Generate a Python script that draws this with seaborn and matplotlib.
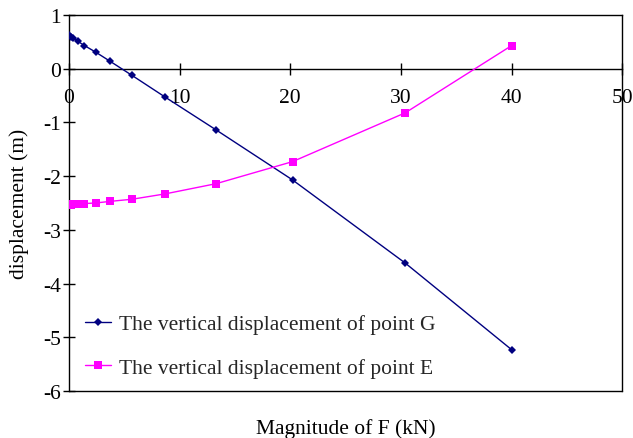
import matplotlib
matplotlib.use("Agg")
import matplotlib.pyplot as plt
import seaborn as sns
import pandas as pd

# ---- data ----
force = [0, 0.2, 0.4, 0.8, 1.4, 2.4, 3.7, 5.7, 8.7, 13.3, 20.2, 30.4, 40]
disp_G = [0.62, 0.59, 0.565, 0.51, 0.43, 0.31, 0.14, -0.125, -0.53, -1.14, -2.07, -3.62, -5.23]
disp_E = [-2.53, -2.53, -2.52, -2.52, -2.51, -2.50, -2.47, -2.43, -2.33, -2.14, -1.73, -0.82, 0.43]
label_G = "The vertical displacement of point G"
label_E = "The vertical displacement of point E"
x_ticks = [0, 10, 20, 30, 40, 50]
y_ticks = [-6, -5, -4, -3, -2, -1, 0, 1]

sns.set_theme(style="white")
plt.rcParams["font.family"] = ["Liberation Serif", "DejaVu Serif"]
FS = 15.5

dfG = pd.DataFrame({"F": force, "d": disp_G})
dfE = pd.DataFrame({"F": force, "d": disp_E})

fig, ax = plt.subplots(figsize=(6.33, 4.39), dpi=100)
fig.subplots_adjust(left=0.109, right=0.983, top=0.9636, bottom=0.107)

navy = "#000080"
mag = "#FF00FF"
sns.lineplot(data=dfG, x="F", y="d", ax=ax, color=navy, lw=1.0, marker="D",
             markersize=4.2, markeredgecolor=navy, markeredgewidth=0, sort=False,
             label=label_G, zorder=3)
sns.lineplot(data=dfE, x="F", y="d", ax=ax, color=mag, lw=1.0, marker="s",
             markersize=5.5, markeredgecolor=mag, markeredgewidth=0, sort=False,
             label=label_E, zorder=3)

# x axis crosses at y = 0 (do this before styling ticks; it resets them)
ax.spines["bottom"].set_position(("data", 0))
for s in ax.spines.values():
    s.set_color("black")
    s.set_linewidth(1.0)
# bottom frame line of the plot area
ax.plot([0, 1], [0, 0], transform=ax.transAxes, color="black", lw=1.0, clip_on=False, zorder=2)

ax.set_xlim(0, 50)
ax.set_ylim(-6, 1)
ax.set_xticks(x_ticks)
ax.set_yticks(y_ticks)
ax.set_xticklabels([str(v) for v in x_ticks])
ax.set_yticklabels([str(v) for v in y_ticks])

ax.tick_params(axis="x", direction="inout", length=8, width=1.0, pad=10, colors="black",
               bottom=True, labelsize=FS)
ax.tick_params(axis="y", direction="inout", length=8, width=1.0, pad=2, colors="black",
               left=True, labelsize=FS)

ax.set_xlabel("Magnitude of F (kN)", fontsize=FS, color="black")
ax.set_ylabel("displacement (m)", fontsize=FS, color="black")
ax.xaxis.set_label_coords(0.5, -0.072)
ax.yaxis.set_label_coords(-0.072, 0.5)

leg = ax.legend(loc="center left", bbox_to_anchor=(0.029, 0.12), frameon=False,
                fontsize=FS, handlelength=1.2, handletextpad=0.4, labelspacing=1.1,
                borderpad=0, borderaxespad=0)

fig.savefig("out.png", dpi=100)
